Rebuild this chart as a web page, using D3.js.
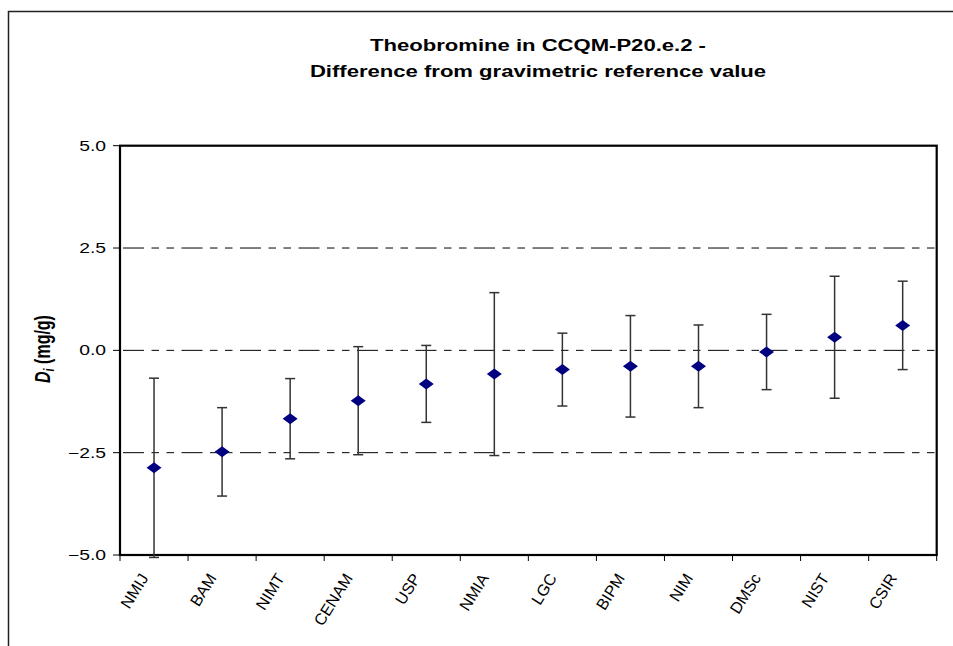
<!DOCTYPE html>
<html><head><meta charset="utf-8">
<script src="https://cdn.jsdelivr.net/npm/d3@7"></script>
<style>html,body{margin:0;background:#fff;overflow:hidden}svg{display:block}text{font-family:"Liberation Sans",Arial,sans-serif}</style>
</head><body>
<svg id="c" width="953" height="646"></svg>
<script>
const labs = ["NMIJ","BAM","NIMT","CENAM","USP","NMIA","LGC","BIPM","NIM","DMSc","NIST","CSIR"];
const values = [-2.87,-2.48,-1.67,-1.23,-0.82,-0.58,-0.47,-0.39,-0.39,-0.04,0.32,0.61];
const uncert = [2.19,1.08,0.98,1.32,0.94,1.99,0.89,1.24,1.01,0.92,1.49,1.08];
const yTicks = [-5,-2.5,0,2.5,5];
const gridVals = [-2.5,0,2.5];
const titleLines = ["Theobromine in CCQM-P20.e.2 -","Difference from gravimetric reference value"];

const SX = 1.38;
const svg = d3.select("#c");
const L=120, R=936.7, T=145.7, B=555;
const x = d3.scaleBand().domain(labs).range([L,R]).padding(0);
const y = d3.scaleLinear().domain([-5,5]).range([B,T]);

// outer chart-area border (only left and top edges fall inside the picture)
svg.append("path").attr("d","M8.5,646V11.5H953")
  .attr("fill","none").attr("stroke","#222").attr("stroke-width",1.5);

// title
svg.append("g").selectAll("text").data(titleLines).join("text")
  .attr("transform",(d,i)=>`translate(538,${51+i*25.5}) scale(${SX},1)`)
  .attr("text-anchor","middle").attr("font-size",16).attr("font-weight","bold").attr("fill","#000")
  .text(d=>d);

// gridlines
svg.append("g").selectAll("line").data(gridVals).join("line")
  .attr("x1",L).attr("x2",R).attr("y1",d=>y(d)).attr("y2",d=>y(d))
  .attr("stroke","#000").attr("stroke-width",1)
  .attr("stroke-dasharray","21,7.5,7.5,7.5,7.5,7.5").attr("stroke-dashoffset",-3);

// y axis ticks + labels
const gy = svg.append("g");
gy.selectAll("line").data(yTicks).join("line")
  .attr("x1",113).attr("x2",L).attr("y1",d=>y(d)).attr("y2",d=>y(d))
  .attr("stroke","#000").attr("stroke-width",1);
gy.selectAll("text").data(yTicks).join("text")
  .attr("transform",d=>`translate(106,${y(d)+5}) scale(${SX},1)`)
  .attr("text-anchor","end").attr("font-size",14).attr("fill","#000")
  .text(d=>d3.format(".1f")(d));

// x axis ticks
const bounds = labs.map(l=>x(l)).concat([R]);
svg.append("g").selectAll("line").data(bounds).join("line")
  .attr("x1",d=>d).attr("x2",d=>d).attr("y1",B).attr("y2",561)
  .attr("stroke","#000").attr("stroke-width",1);
// x labels
svg.append("g").selectAll("text").data(labs).join("text")
  .attr("transform",d=>`translate(${x(d)+x.bandwidth()/2-5},${578}) rotate(-58)`)
  .attr("text-anchor","end").attr("font-size",16).attr("fill","#000")
  .text(d=>d);

// plot border
svg.append("rect").attr("x",L).attr("y",T).attr("width",R-L).attr("height",B-T)
  .attr("fill","none").attr("stroke","#000").attr("stroke-width",2.2);

// error bars
const eg = svg.append("g").attr("stroke","#333").attr("stroke-width",1.5);
labs.forEach((l,i)=>{
  const cx = x(l)+x.bandwidth()/2;
  const hi = y(values[i]+uncert[i]), lo = y(values[i]-uncert[i]);
  eg.append("line").attr("x1",cx).attr("x2",cx).attr("y1",hi).attr("y2",lo);
  eg.append("line").attr("x1",cx-5).attr("x2",cx+5).attr("y1",hi).attr("y2",hi);
  eg.append("line").attr("x1",cx-5).attr("x2",cx+5).attr("y1",lo).attr("y2",lo);
});

// diamonds
svg.append("g").selectAll("path").data(labs).join("path")
  .attr("d",(l,i)=>{
    const cx = x(l)+x.bandwidth()/2, cy = y(values[i]);
    return `M${cx-7.5},${cy}L${cx},${cy-5.5}L${cx+7.5},${cy}L${cx},${cy+5.5}Z`;
  })
  .attr("fill","#000080");

// y axis title
const yt = svg.append("text")
  .attr("transform",`translate(50,349) scale(${SX},1) rotate(-90)`)
  .attr("text-anchor","middle").attr("font-size",16).attr("font-weight","bold").attr("fill","#000");
yt.append("tspan").attr("font-style","italic").text("D");
yt.append("tspan").attr("font-style","italic").attr("font-size",11).attr("dy",3).text("i");
yt.append("tspan").attr("dy",-3).text(" (mg/g)");
</script>
</body></html>
